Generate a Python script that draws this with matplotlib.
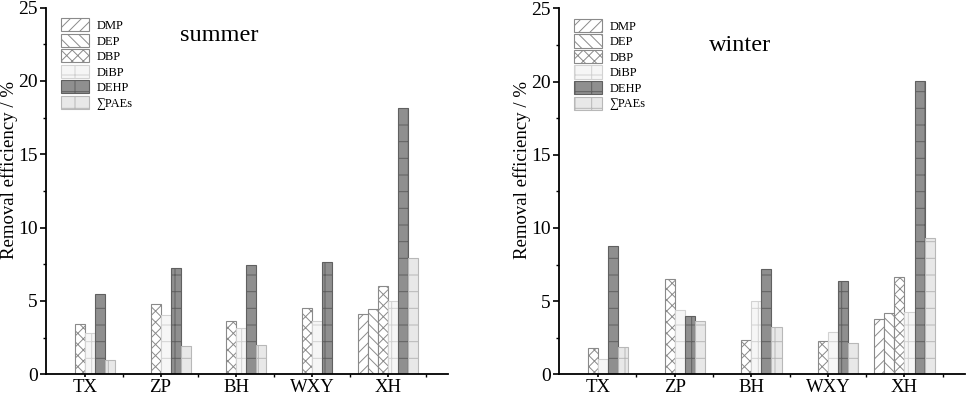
import matplotlib
matplotlib.use("Agg")
import matplotlib.pyplot as plt
import numpy as np
from matplotlib.ticker import MultipleLocator, FixedLocator

plt.rcParams['font.family'] = ['Liberation Serif', 'DejaVu Serif']
plt.rcParams['hatch.linewidth'] = 0.7

categories = ['TX', 'ZP', 'BH', 'WXY', 'XH']
series_names = ['DMP', 'DEP', 'DBP', 'DiBP', 'DEHP', '∑PAEs']

summer_DMP = [0, 0, 0, 0, 4.09]
summer_DEP = [0, 0, 0, 0, 4.43]
summer_DBP = [3.43, 4.77, 3.63, 4.54, 6.02]
summer_DiBP = [2.84, 4.04, 3.13, 3.61, 5.00]
summer_DEHP = [5.50, 7.25, 7.47, 7.68, 18.13]
summer_PAEs = [0.98, 1.95, 1.97, 0, 7.95]

winter_DMP = [0, 0, 0, 0, 3.79]
winter_DEP = [0, 0, 0, 0, 4.18]
winter_DBP = [1.78, 6.53, 2.33, 2.28, 6.66]
winter_DiBP = [1.05, 4.40, 5.02, 2.88, 4.25]
winter_DEHP = [8.77, 3.95, 7.16, 6.39, 20.04]
winter_PAEs = [1.89, 3.63, 3.26, 2.14, 9.34]

styles = [
    dict(facecolor='white', edgecolor='#8a8a8a', hatch='///'),
    dict(facecolor='white', edgecolor='#8a8a8a', hatch='\\\\\\'),
    dict(facecolor='white', edgecolor='#8a8a8a', hatch='xxx'),
    dict(facecolor='#f6f6f6', edgecolor='#d2d2d2', hatch='+'),
    dict(facecolor='#8f8f8f', edgecolor='#606060', hatch='+'),
    dict(facecolor='#e8e8e8', edgecolor='#b8b8b8', hatch='+'),
]

fig = plt.figure(figsize=(9.69, 4.01), dpi=100)
ax1 = fig.add_axes([46/969, 26.7/401, 402/969, 366.7/401])
ax2 = fig.add_axes([559/969, 26.7/401, 406/969, 366.0/401])

w = 0.132
x = np.arange(len(categories))

def draw(ax, data, title, tx, ty, lab_x):
    handles = []
    for j, vals in enumerate(data):
        b = ax.bar(x + (j - 2.5) * w, vals, width=w, linewidth=0.8,
                   label=series_names[j], zorder=2, **styles[j])
        handles.append(b)
    ax.set_xlim(-0.51, 4.79)
    ax.set_ylim(0, 25)
    ax.spines['top'].set_visible(False)
    ax.spines['right'].set_visible(False)
    for s in ['left', 'bottom']:
        ax.spines[s].set_linewidth(1.3)
        ax.spines[s].set_zorder(3)
    ax.yaxis.set_major_locator(MultipleLocator(5))
    ax.yaxis.set_minor_locator(MultipleLocator(2.5))
    ax.set_xticks(x)
    ax.set_xticklabels(categories)
    ax.xaxis.set_minor_locator(FixedLocator(x + 0.5))
    ax.tick_params(axis='y', which='major', direction='out', length=4.3, width=1.2,
                   labelsize=14, pad=1.5)
    ax.tick_params(axis='y', which='minor', direction='out', length=2.5, width=1.0)
    ax.tick_params(axis='x', which='major', direction='out', length=2.5, width=1.2,
                   labelsize=13.5, pad=1)
    ax.tick_params(axis='x', which='minor', direction='out', length=2.5, width=1.0)
    ax.set_ylabel('Removal efficiency / %', fontsize=13.5)
    ax.yaxis.set_label_coords(lab_x, 0.557)
    ax.text(tx, ty, title, transform=ax.transAxes, fontsize=17.5,
            ha='center', va='center')
    ax.legend(handles=handles, loc='upper left', bbox_to_anchor=(0.037, 0.971),
              frameon=False, fontsize=9, handlelength=2.26, handleheight=1.24,
              labelspacing=0.14, handletextpad=0.6, borderpad=0, borderaxespad=0)

draw(ax1, [summer_DMP, summer_DEP, summer_DBP, summer_DiBP, summer_DEHP, summer_PAEs],
     'summer', 0.43, 0.925, (18 - 46) / 402)
draw(ax2, [winter_DMP, winter_DEP, winter_DBP, winter_DiBP, winter_DEHP, winter_PAEs],
     'winter', 0.446, 0.897, (531 - 559) / 406)

fig.savefig('out.png', dpi=100)
